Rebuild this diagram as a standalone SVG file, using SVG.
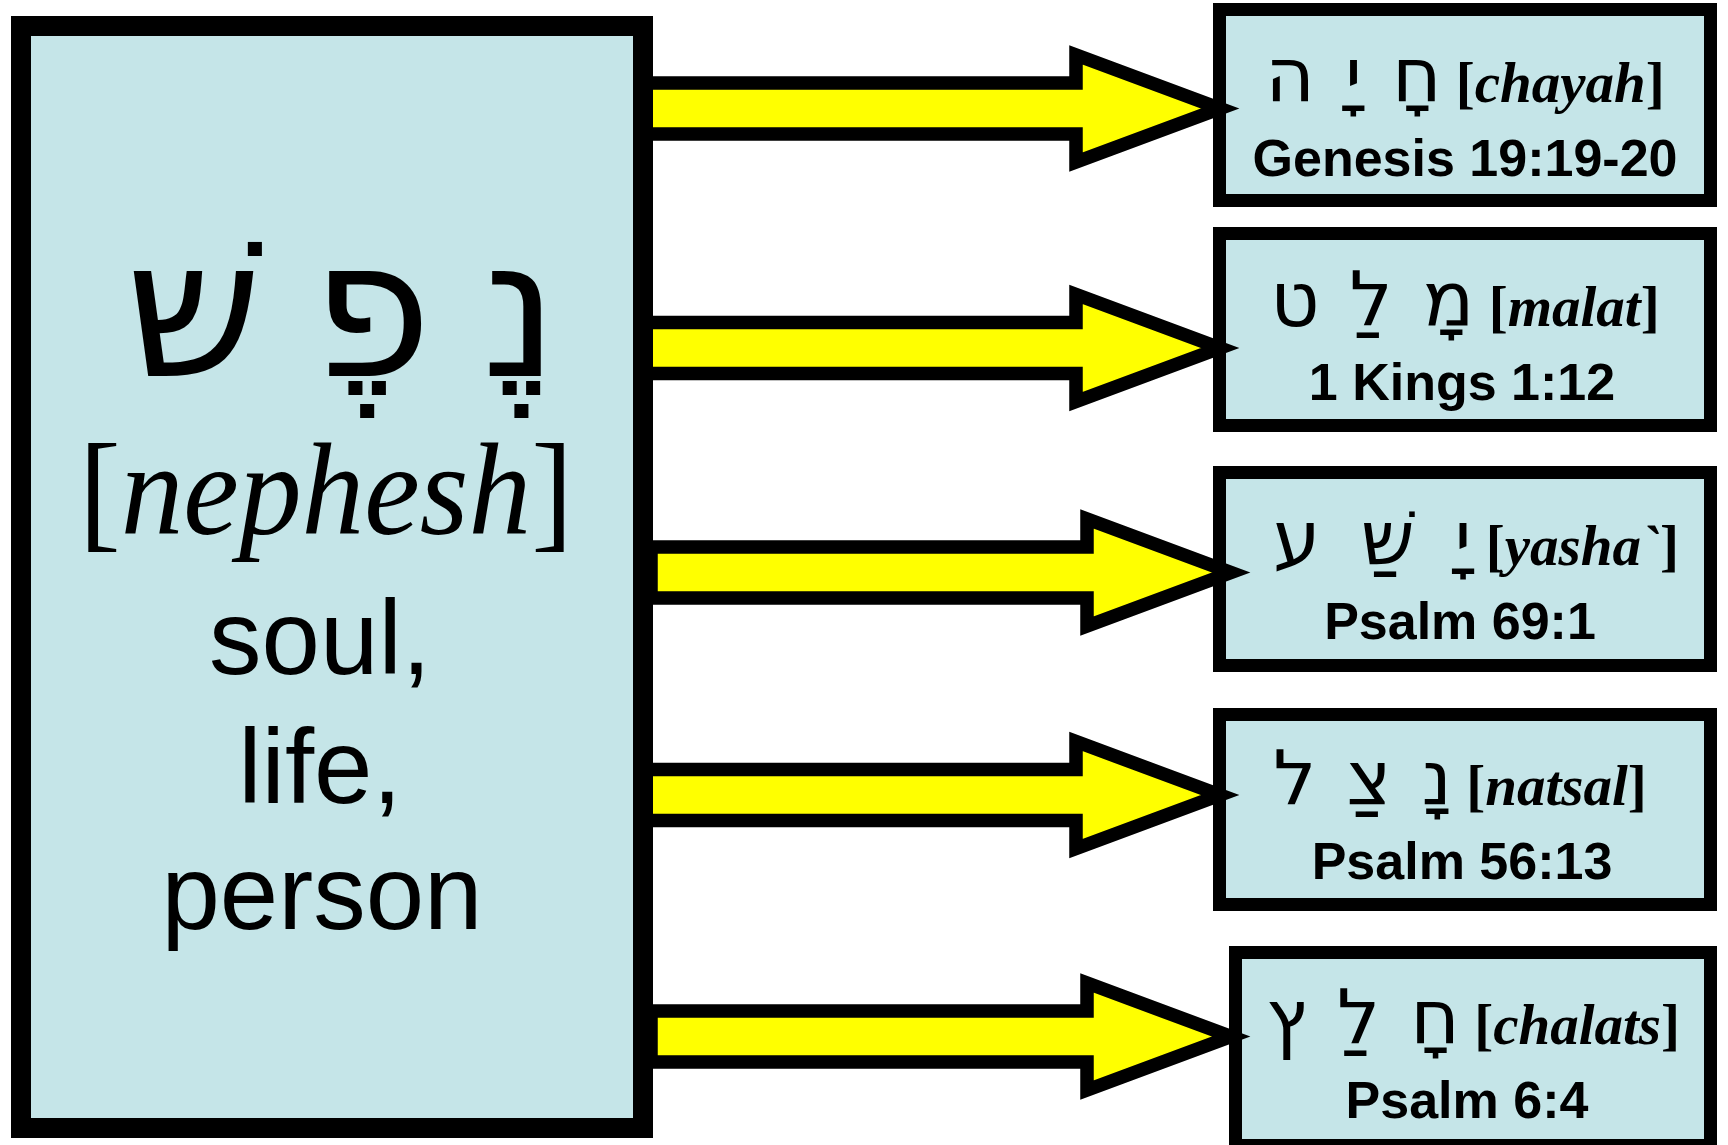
<svg xmlns="http://www.w3.org/2000/svg" xmlns:xlink="http://www.w3.org/1999/xlink" width="1728" height="1145" viewBox="0 0 1728 1145">
<style>
.box{fill:#C5E5E8;stroke:#000;stroke-width:13;stroke-linejoin:miter}
.mainbox{fill:#C5E5E8;stroke:#000;stroke-width:20}
.arrow{fill:#FFFF00;stroke:#000;stroke-width:13.5;stroke-linejoin:miter;stroke-miterlimit:10}
.heb{font-family:"DejaVu Sans",sans-serif;fill:#000}
.hs{font-size:76px}
.sp{letter-spacing:30px}
.n0{letter-spacing:0}
.sans{font-family:"Liberation Sans",Arial,sans-serif;fill:#000;font-size:105px}
.ref{font-family:"Liberation Sans",Arial,sans-serif;font-weight:bold;font-size:52px;fill:#000}
.bi{font-family:"Liberation Serif","Times New Roman",serif;font-weight:bold;font-size:57px;fill:#000}
.serif{font-family:"Liberation Serif","Times New Roman",serif;fill:#000}
</style>
<defs>
<path id="arr" class="arrow" d="M640,-25.5 H1076 V-53.5 L1220,0 L1076,53.5 V25.5 H640 Z"/>
</defs>
<g id="node-chayah">
<rect class="box" x="1219.5" y="9.5" width="491" height="191"/>
<text x="1465" y="102" text-anchor="middle"><tspan class="heb hs"><tspan class="n0">חָ</tspan><tspan class="sp">יָה</tspan></tspan><tspan class="bi"> [<tspan font-style="italic">chayah</tspan>]</tspan></text>
<text class="ref" x="1465" y="176" text-anchor="middle">Genesis 19:19-20</text>
</g>
<g id="node-malat">
<rect class="box" x="1219.5" y="233.5" width="491" height="192"/>
<text x="1465" y="326" text-anchor="middle"><tspan class="heb hs"><tspan class="n0">מָ</tspan><tspan class="sp">לַט</tspan></tspan><tspan class="bi"> [<tspan font-style="italic">malat</tspan>]</tspan></text>
<text class="ref" x="1462" y="400" text-anchor="middle">1 Kings 1:12</text>
</g>
<g id="node-yasha">
<rect class="box" x="1219.5" y="472.5" width="491" height="193"/>
<text x="1476" y="565" text-anchor="middle"><tspan class="heb hs"><tspan class="n0">יָ</tspan><tspan letter-spacing="40">שַׁע</tspan></tspan><tspan class="bi"> [<tspan font-style="italic">yasha`</tspan>]</tspan></text>
<text class="ref" x="1460" y="639" text-anchor="middle">Psalm 69:1</text>
</g>
<g id="node-natsal">
<rect class="box" x="1219.5" y="714.5" width="491" height="190"/>
<text x="1460" y="805" text-anchor="middle"><tspan class="heb hs"><tspan class="n0">נָ</tspan><tspan class="sp">צַל</tspan></tspan><tspan class="bi"> [<tspan font-style="italic">natsal</tspan>]</tspan></text>
<text class="ref" x="1462" y="879" text-anchor="middle">Psalm 56:13</text>
</g>
<g id="node-chalats">
<rect class="box" x="1235.5" y="952.5" width="475" height="193"/>
<text x="1473" y="1044" text-anchor="middle"><tspan class="heb hs"><tspan class="n0">חָ</tspan><tspan class="sp">לַץ</tspan></tspan><tspan class="bi"> [<tspan font-style="italic">chalats</tspan>]</tspan></text>
<text class="ref" x="1467" y="1118" text-anchor="middle">Psalm 6:4</text>
</g>
<g id="connectors">
<use href="#arr" xlink:href="#arr" x="0" y="108.5"/>
<use href="#arr" xlink:href="#arr" x="0" y="348"/>
<use href="#arr" xlink:href="#arr" x="11" y="572.5"/>
<use href="#arr" xlink:href="#arr" x="0" y="795"/>
<use href="#arr" xlink:href="#arr" x="11" y="1036.5"/>
</g>
<g id="node-nephesh">
<rect class="mainbox" x="21" y="26" width="622" height="1102"/>
<text class="heb" x="342" y="376" font-size="192" text-anchor="middle"><tspan class="n0">נֶ</tspan><tspan letter-spacing="50">פֶשׁ</tspan></text>
<text class="serif" x="326" y="534" font-size="132" text-anchor="middle" textLength="494" lengthAdjust="spacingAndGlyphs">[<tspan font-style="italic">nephesh</tspan>]</text>
<text class="sans" x="320" y="674" text-anchor="middle">soul,</text>
<text class="sans" x="320" y="803" text-anchor="middle">life,</text>
<text class="sans" x="322" y="929" text-anchor="middle">person</text>
</g>
</svg>
